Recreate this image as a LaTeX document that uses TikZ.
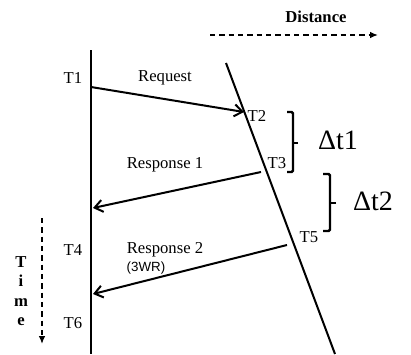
\documentclass[tikz,border=0pt]{standalone}
\usepackage{fontspec}
\setmainfont{Liberation Serif}
\newfontfamily\labelsans{Liberation Sans}
\usetikzlibrary{arrows.meta}

\begin{document}
\begin{tikzpicture}[
  x=0.75pt, y=-0.75pt,
  lbl/.style={font=\fontsize{12.5}{15}\selectfont, inner sep=0pt},
  delta/.style={font=\fontsize{21}{24}\selectfont, inner sep=0pt},
  wire/.style={line width=1.5pt},
  msg/.style={wire, -{Straight Barb[length=6pt, width=9pt, line width=1.5pt]}},
  axis/.style={line width=1.1pt, dash pattern=on 4pt off 3pt, -{Latex[length=6pt, width=5pt]}},
  span/.style={line width=1.8pt, rounded corners=1pt},
]
\useasboundingbox (0,0) rectangle (411,354);

% the two stations
\coordinate (hosttop) at (91,50);
\coordinate (hostbot) at (91,354);
\coordinate (mobtop) at (226,63);
\coordinate (mobbot) at (335,354);
\draw[wire] (hosttop) -- (hostbot);
\draw[wire] (mobtop) -- (mobbot);

% message end points
\coordinate (t1) at (91,87);
\coordinate (t2) at (244,112);
\coordinate (t3) at (261,172);
\coordinate (t4) at (93,208);
\coordinate (t5) at (287,245);
\coordinate (t6) at (93,294);

\draw[msg] (t1) -- (t2);
\draw[msg] (t3) -- (t4);
\draw[msg] (t5) -- (t6);

\node[lbl] (lt1) at (73,78) {T1};
\node[lbl] (req) at (165,78) {Request};
\node[lbl] (lt2) at (257,116) {T2};
\node[lbl] (lt3) at (277,163) {T3};
\node[lbl] (resp1) at (165,165) {Response 1};
\node[lbl] (lt5) at (309,237) {T5};
\node[lbl] (resp2) at (165,250) {Response 2};
\node[inner sep=0pt, font=\labelsans\fontsize{10}{12}\selectfont] (wr) at (146,268) {(3WR)};
\node[lbl] (lt4) at (73,250) {T4};
\node[lbl] (lt6) at (73,323) {T6};

% intervals
\coordinate (d1top) at (287,112);
\coordinate (d1bot) at (287,172);
\coordinate (d1mid) at (298,143);
\coordinate (d2top) at (323,174);
\coordinate (d2bot) at (323,231);
\coordinate (d2mid) at (336,203);
\draw[span] (d1top) -- ++(6,0) |- (d1bot);
\draw[span] (d1mid) -- ++(-6,0);
\draw[span] (d2top) -- ++(7,0) |- (d2bot);
\draw[span] (d2mid) -- ++(-7,0);
\node[delta] (dt1) at (338,140) {Δt1};
\node[delta] (dt2) at (373,201) {Δt2};

% axes
\coordinate (distfrom) at (210,35);
\coordinate (distto) at (378,35);
\draw[axis] (distfrom) -- (distto);
\node[lbl, font=\bfseries\fontsize{12.5}{15}\selectfont] (dist) at (316,17) {Distance};

\coordinate (timefrom) at (42,218);
\coordinate (timeto) at (42,344);
\draw[axis] (timefrom) -- (timeto);
\node[lbl, align=center, font=\bfseries\fontsize{12.5}{14.5}\selectfont] (time) at (21,291) {T\\i\\m\\e};
\end{tikzpicture}
\end{document}
